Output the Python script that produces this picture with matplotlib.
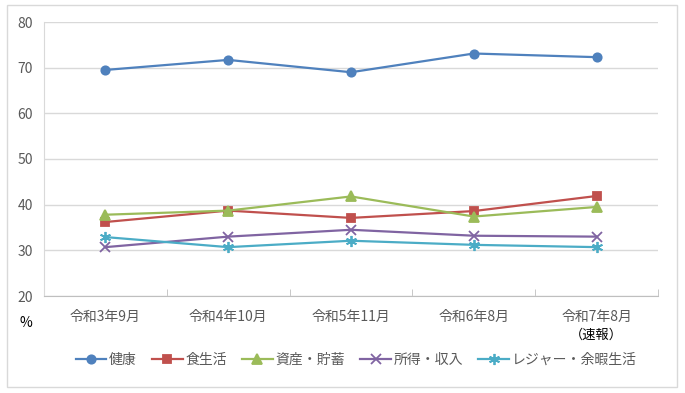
import matplotlib.pyplot as plt
from matplotlib.patches import Rectangle

plt.rcParams['font.family'] = ['Noto Sans CJK JP', 'DejaVu Sans']

categories = ['令和3年9月', '令和4年10月', '令和5年11月', '令和6年8月', '令和7年8月']
health = [69.5, 71.7, 69.0, 73.1, 72.3]
diet = [36.2, 38.7, 37.1, 38.6, 41.9]
assets = [37.8, 38.7, 41.8, 37.4, 39.5]
income = [30.7, 33.0, 34.5, 33.2, 33.0]
leisure = [32.9, 30.7, 32.1, 31.2, 30.7]

series = [
    ('健康', health, '#4F81BD', 'o', 6),
    ('食生活', diet, '#C0504D', 's', 6),
    ('資産・貯蓄', assets, '#9BBB59', '^', 7),
    ('所得・収入', income, '#8064A2', 'x', 7),
    ('レジャー・余暇生活', leisure, '#4BACC6', (6, 2, 0), 8),
]

fig = plt.figure(figsize=(6.85, 3.93), dpi=100)
ax = fig.add_axes([44 / 685, 1 - 296 / 393, 614 / 685, 274 / 393])

fig.patches.append(Rectangle((7 / 685, 1 - 387 / 393), 670 / 685, 382 / 393,
                             transform=fig.transFigure, fill=False,
                             edgecolor='#d9d9d9', linewidth=1))

x = list(range(len(categories)))
for name, vals, color, marker, ms in series:
    ax.plot(x, vals, color=color, linewidth=1.6, marker=marker,
            markersize=ms, markeredgewidth=1.3, label=name)

ax.set_xlim(-0.5, 4.5)
ax.set_ylim(20, 80)
ax.set_yticks(range(20, 81, 10))
ax.grid(axis='y', color='#d9d9d9', linewidth=1)
ax.set_axisbelow(True)

ax.set_xticks(x)
ax.set_xticklabels(categories)
ax.set_xticks([i - 0.5 for i in range(6)], minor=True)
ax.tick_params(axis='x', which='major', length=0, pad=10, labelsize=10,
               labelcolor='#595959')
ax.tick_params(axis='x', which='minor', direction='in', length=5,
               color='#bfbfbf')
ax.tick_params(axis='y', length=0, pad=8, labelsize=10, labelcolor='#595959')

for side in ['top', 'right']:
    ax.spines[side].set_visible(False)
ax.spines['left'].set_color('#d9d9d9')
ax.spines['bottom'].set_color('#bfbfbf')

fig.text(26 / 685, 1 - 323 / 393, '%', ha='center', va='center',
         fontsize=10, color='#000000')
ax.text(4, -0.145, '（速報）', transform=ax.get_xaxis_transform(),
        ha='center', va='center', fontsize=9.5, color='#000000')

fig.legend(loc='center', bbox_to_anchor=(0.52, 1 - 360 / 393), ncol=5,
           frameon=False, fontsize=10, handlelength=2.2, columnspacing=1.1,
           handletextpad=0.2, labelcolor='#595959')

fig.savefig('out.png', dpi=100)
